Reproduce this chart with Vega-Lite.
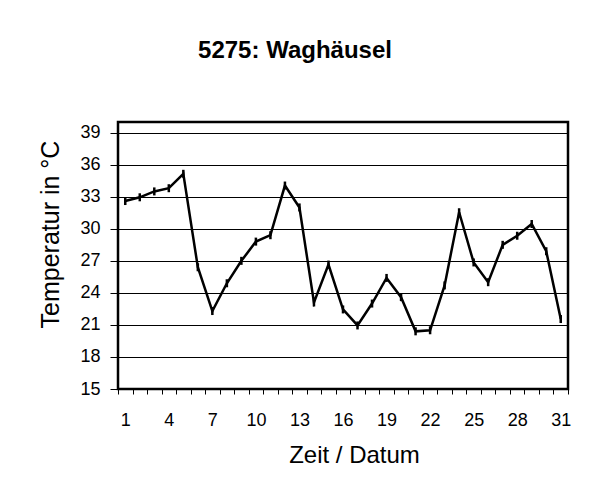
{
  "$schema": "https://vega.github.io/schema/vega-lite/v6.json",
  "width": 450,
  "height": 267,
  "autosize": "none",
  "padding": {"left": 118, "top": 122, "right": 24, "bottom": 115},
  "background": "white",
  "title": {
    "text": "5275: Waghäusel",
    "font": "Liberation Sans",
    "fontSize": 24,
    "fontWeight": "bold",
    "color": "black",
    "frame": "group",
    "anchor": "middle",
    "dx": -48,
    "baseline": "alphabetic",
    "offset": 40
  },
  "data": {
    "values": [
      {"Tag": 1, "Temperatur": 32.6},
      {"Tag": 2, "Temperatur": 32.95},
      {"Tag": 3, "Temperatur": 33.5},
      {"Tag": 4, "Temperatur": 33.8},
      {"Tag": 5, "Temperatur": 35.15},
      {"Tag": 6, "Temperatur": 26.4},
      {"Tag": 7, "Temperatur": 22.3},
      {"Tag": 8, "Temperatur": 24.9},
      {"Tag": 9, "Temperatur": 27.0},
      {"Tag": 10, "Temperatur": 28.8},
      {"Tag": 11, "Temperatur": 29.4},
      {"Tag": 12, "Temperatur": 34.05},
      {"Tag": 13, "Temperatur": 32.0},
      {"Tag": 14, "Temperatur": 23.1},
      {"Tag": 15, "Temperatur": 26.65},
      {"Tag": 16, "Temperatur": 22.45},
      {"Tag": 17, "Temperatur": 20.95},
      {"Tag": 18, "Temperatur": 23.0},
      {"Tag": 19, "Temperatur": 25.4},
      {"Tag": 20, "Temperatur": 23.6},
      {"Tag": 21, "Temperatur": 20.4},
      {"Tag": 22, "Temperatur": 20.5},
      {"Tag": 23, "Temperatur": 24.7},
      {"Tag": 24, "Temperatur": 31.55},
      {"Tag": 25, "Temperatur": 26.85},
      {"Tag": 26, "Temperatur": 25.0},
      {"Tag": 27, "Temperatur": 28.5},
      {"Tag": 28, "Temperatur": 29.35},
      {"Tag": 29, "Temperatur": 30.45},
      {"Tag": 30, "Temperatur": 27.9},
      {"Tag": 31, "Temperatur": 21.55}
    ]
  },
  "encoding": {
    "x": {
      "field": "Tag",
      "type": "ordinal",
      "scale": {"type": "band", "paddingInner": 0, "paddingOuter": 0},
      "bandPosition": 0.5,
      "axis": {
        "title": "Zeit / Datum",
        "tickBand": "extent",
        "labelExpr": "(datum.value - 1) % 3 == 0 ? datum.label : ''",
        "labelAngle": 0,
        "labelOverlap": false,
        "tickSize": 5,
        "tickColor": "black",
        "tickWidth": 1,
        "domain": false,
        "grid": false,
        "labelFontSize": 18,
        "labelPadding": 17,
        "labelColor": "black",
        "titleFontSize": 24,
        "titleFontWeight": "normal",
        "titleColor": "black",
        "titlePadding": 14,
        "titleX": 236
      }
    },
    "y": {
      "field": "Temperatur",
      "type": "quantitative",
      "scale": {"domain": [15, 40], "nice": false, "zero": false},
      "axis": {
        "title": "Temperatur in °C",
        "values": [15, 18, 21, 24, 27, 30, 33, 36, 39],
        "tickSize": 8,
        "tickColor": "black",
        "tickWidth": 1,
        "grid": true,
        "gridColor": "black",
        "gridWidth": 1,
        "gridOpacity": 1,
        "domain": false,
        "labelFontSize": 18,
        "labelPadding": 10,
        "labelColor": "black",
        "titleFontSize": 25,
        "titleFontWeight": "normal",
        "titleColor": "black",
        "titlePadding": 16,
        "titleY": 112
      }
    }
  },
  "layer": [
    {"mark": {"type": "line", "color": "black", "strokeWidth": 2.5}},
    {"mark": {"type": "point", "shape": "M0,-1L0,1", "size": 64, "filled": false, "stroke": "black", "strokeWidth": 2.5, "opacity": 1}}
  ],
  "config": {
    "font": "Liberation Sans",
    "view": {"stroke": "black", "strokeWidth": 2.5},
    "axis": {"labelFont": "Liberation Sans", "titleFont": "Liberation Sans"}
  }
}
